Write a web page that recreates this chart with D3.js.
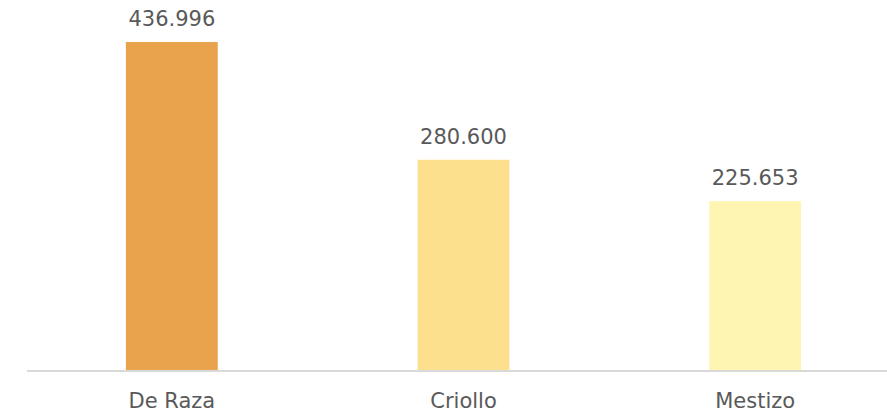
<!DOCTYPE html>
<html>
<head>
<meta charset="utf-8">
<script src="https://cdn.jsdelivr.net/npm/d3@7/dist/d3.min.js"></script>
<style>
  html, body { margin: 0; padding: 0; background: #fff; }
  svg { display: block; }
  text { font-family: "Century Gothic", "DejaVu Sans", sans-serif; fill: #595959; }
</style>
</head>
<body>
<svg id="chart" width="887" height="416"></svg>
<script>
const categories = ["De Raza", "Criollo", "Mestizo"];
const values = [436.996, 280.600, 225.653];
const labels = ["436.996", "280.600", "225.653"];
const colors = ["#E8A34C", "#FDE08D", "#FFF5B2"];

const svg = d3.select("#chart");
const baseY = 371;

const x = d3.scaleBand()
  .domain(categories)
  .range([26, 901])
  .paddingInner(0.685)
  .paddingOuter(0.3425);

const y = d3.scaleLinear()
  .domain([0, 500])
  .range([baseY, baseY - 376.4]);

svg.selectAll("rect.bar")
  .data(categories)
  .enter().append("rect")
  .attr("class", "bar")
  .attr("x", d => x(d))
  .attr("width", x.bandwidth())
  .attr("y", (d, i) => y(values[i]))
  .attr("height", (d, i) => baseY - y(values[i]))
  .attr("fill", (d, i) => colors[i]);

svg.selectAll("text.val")
  .data(categories)
  .enter().append("text")
  .attr("class", "val")
  .attr("x", d => x(d) + x.bandwidth() / 2)
  .attr("y", (d, i) => y(values[i]) - 16)
  .attr("text-anchor", "middle")
  .attr("font-size", 21)
  .text((d, i) => labels[i]);

const axis = d3.axisBottom(x).tickSize(0).tickPadding(22);
const g = svg.append("g").attr("transform", `translate(0,${baseY})`).call(axis);
g.select(".domain").remove();
g.selectAll("text").attr("font-size", 21).style("fill", "#595959")
  .style("font-family", "'Century Gothic', 'DejaVu Sans', sans-serif");

svg.append("line")
  .attr("x1", 27).attr("x2", 887)
  .attr("y1", baseY).attr("y2", baseY)
  .attr("stroke", "#D9D9D9").attr("stroke-width", 2);
</script>
</body>
</html>
